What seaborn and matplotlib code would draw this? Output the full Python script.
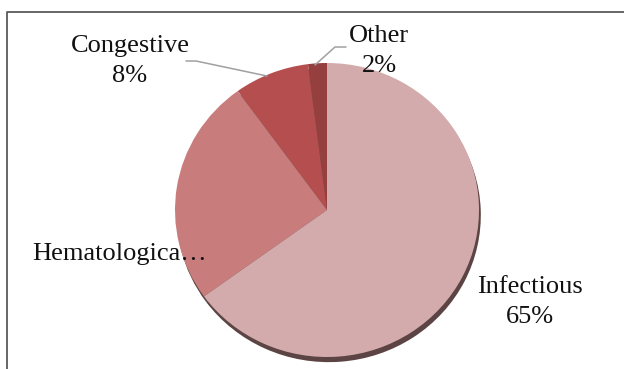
import matplotlib
matplotlib.use("Agg")
import matplotlib.pyplot as plt
import seaborn as sns

categories = ["Other", "Congestive", "Hematologica…", "Infectious"]
values = [2, 8, 25, 65]
colors = ["#953f3f", "#b54f4f", "#c87c7c", "#d4abac"]
shadow_color = "#5c4444"

sns.set_theme(style="white")
plt.rcParams["font.family"] = ["Liberation Serif", "DejaVu Serif"]

W, H = 624, 369
fig = plt.figure(figsize=(W / 100, H / 100), dpi=100)
fig.patch.set_facecolor("white")

# pie axes (pixel bbox of pie: x 175-479, y 63-357 from top)
px0, px1, py0, py1 = 175, 479, 63, 357
m = 1.15
cxp, cyp = (px0 + px1) / 2, (py0 + py1) / 2
rxp, ryp = (px1 - px0) / 2 * m, (py1 - py0) / 2 * m
ax = fig.add_axes([(cxp - rxp) / W, (H - cyp - ryp) / H, 2 * rxp / W, 2 * ryp / H])
ax.pie(values, colors=[shadow_color] * len(values), startangle=90, counterclock=True,
       radius=1.0, center=(0.012, -0.035), wedgeprops=dict(linewidth=0))
ax.pie(values, colors=colors, startangle=90, counterclock=True, radius=1.0,
       wedgeprops=dict(linewidth=0))
ax.set_aspect("auto")
ax.set_xlim(-m, m)
ax.set_ylim(-m, m)
ax.axis("off")

# overlay axes in pixel coordinates
ov = fig.add_axes([0, 0, 1, 1], zorder=5)
ov.set_xlim(0, W)
ov.set_ylim(H, 0)
ov.patch.set_alpha(0)
ov.axis("off")

# frame (left and top only)
ov.plot([6.5, 6.5, W], [H, 12, 12], color="#5a5a5a", lw=1.3, solid_capstyle="butt")

fs = 19
tc = "#111111"
# labels (baseline positions)
ov.text(130, 52, "Congestive", ha="center", va="baseline", fontsize=fs, color=tc)
ov.text(130, 82, f"{values[1]}%", ha="center", va="baseline", fontsize=fs, color=tc)
ov.text(379, 42, "Other", ha="center", va="baseline", fontsize=fs, color=tc)
ov.text(379, 72, f"{values[0]}%", ha="center", va="baseline", fontsize=fs, color=tc)
ov.text(120, 260, categories[2], ha="center", va="baseline", fontsize=fs, color=tc)
ov.text(530, 293, "Infectious", ha="center", va="baseline", fontsize=fs, color=tc)
ov.text(530, 323, f"{values[3]}%", ha="center", va="baseline", fontsize=fs, color=tc)

# leader lines
ov.plot([186, 196, 267], [61, 61, 76], color="#a0a0a0", lw=1.1)
ov.plot([346, 335, 315], [47, 47, 65], color="#a0a0a0", lw=1.1)

fig.savefig("out.png", dpi=100, facecolor="white")
